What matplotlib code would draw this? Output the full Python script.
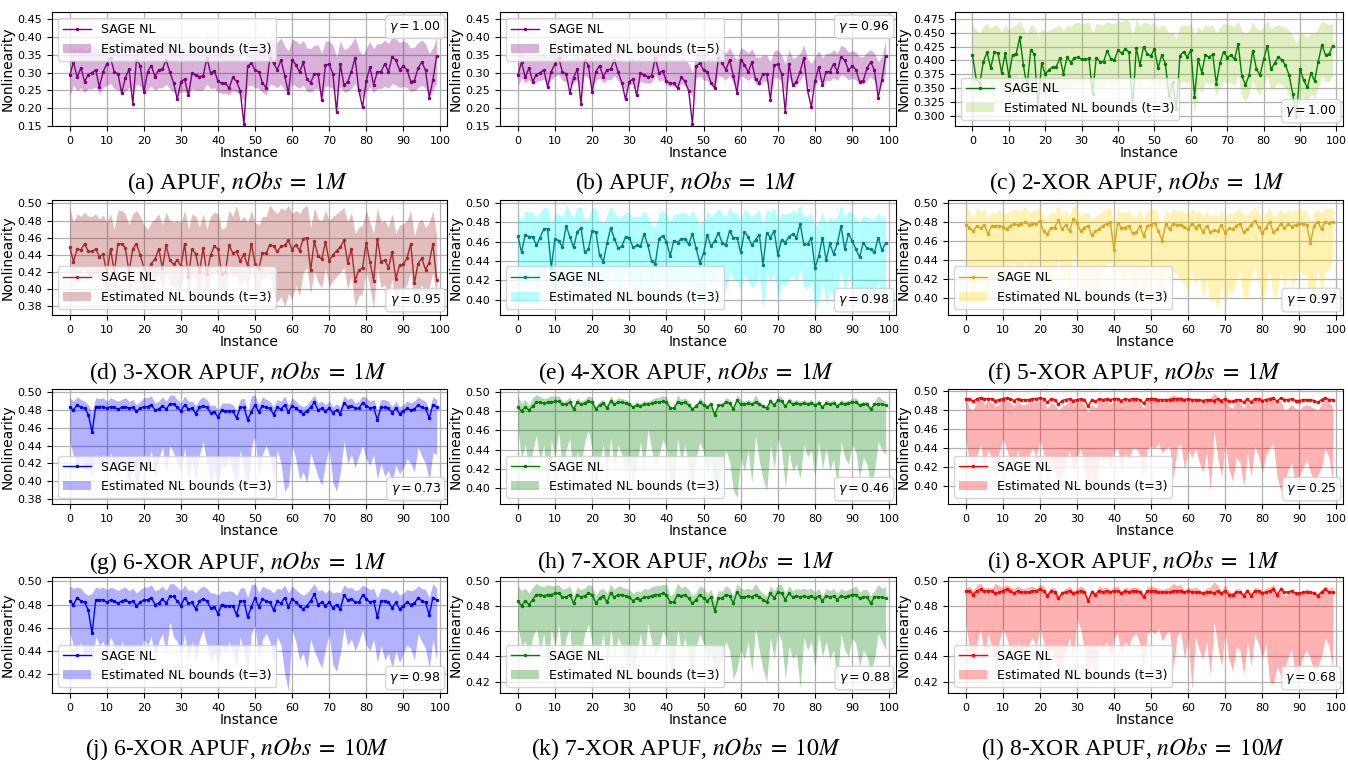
import matplotlib
matplotlib.use("Agg")
import matplotlib.pyplot as plt
from matplotlib.ticker import MultipleLocator

instances = list(range(100))

# ---------------- SAGE NL values ----------------
nl_apuf = [0.293, 0.330, 0.287, 0.314, 0.275, 0.295, 0.300, 0.308, 0.260, 0.303,
           0.325, 0.342, 0.302, 0.297, 0.243, 0.286, 0.310, 0.213, 0.337, 0.320,
           0.245, 0.303, 0.320, 0.289, 0.308, 0.310, 0.336, 0.302, 0.272, 0.225,
           0.275, 0.282, 0.236, 0.299, 0.293, 0.289, 0.291, 0.342, 0.299, 0.306,
           0.276, 0.270, 0.270, 0.257, 0.287, 0.276, 0.249, 0.155, 0.318, 0.327,
           0.307, 0.303, 0.272, 0.257, 0.342, 0.327, 0.308, 0.336, 0.292, 0.243,
           0.337, 0.323, 0.302, 0.329, 0.281, 0.272, 0.297, 0.297, 0.224, 0.321,
           0.324, 0.297, 0.190, 0.325, 0.265, 0.275, 0.303, 0.342, 0.250, 0.203,
           0.276, 0.316, 0.266, 0.303, 0.303, 0.325, 0.303, 0.345, 0.335, 0.308,
           0.318, 0.309, 0.275, 0.278, 0.313, 0.330, 0.307, 0.230, 0.280, 0.347]

nl_x2 = [0.410, 0.367, 0.358, 0.398, 0.415, 0.386, 0.415, 0.413, 0.378, 0.413,
         0.371, 0.410, 0.412, 0.442, 0.391, 0.352, 0.419, 0.411, 0.318, 0.395,
         0.375, 0.383, 0.388, 0.388, 0.405, 0.376, 0.406, 0.396, 0.405, 0.406,
         0.402, 0.402, 0.404, 0.340, 0.405, 0.398, 0.397, 0.418, 0.403, 0.401,
         0.419, 0.413, 0.421, 0.415, 0.315, 0.423, 0.391, 0.425, 0.412, 0.408,
         0.421, 0.386, 0.410, 0.394, 0.335, 0.360, 0.312, 0.409, 0.416, 0.406,
         0.419, 0.334, 0.402, 0.378, 0.410, 0.406, 0.411, 0.358, 0.395, 0.416,
         0.405, 0.410, 0.402, 0.430, 0.372, 0.356, 0.373, 0.418, 0.385, 0.373,
         0.402, 0.427, 0.384, 0.395, 0.406, 0.401, 0.392, 0.373, 0.339, 0.298,
         0.385, 0.364, 0.351, 0.377, 0.363, 0.398, 0.428, 0.410, 0.412, 0.427]

nl_x3 = [0.449, 0.432, 0.447, 0.446, 0.453, 0.444, 0.444, 0.447, 0.438, 0.441,
         0.418, 0.447, 0.420, 0.453, 0.453, 0.448, 0.420, 0.447, 0.453, 0.440,
         0.425, 0.418, 0.430, 0.435, 0.447, 0.425, 0.451, 0.434, 0.429, 0.434,
         0.427, 0.453, 0.414, 0.447, 0.441, 0.420, 0.448, 0.418, 0.440, 0.450,
         0.447, 0.418, 0.420, 0.451, 0.442, 0.444, 0.433, 0.441, 0.427, 0.453,
         0.430, 0.424, 0.442, 0.442, 0.452, 0.450, 0.444, 0.450, 0.451, 0.457,
         0.446, 0.452, 0.445, 0.459, 0.460, 0.422, 0.456, 0.439, 0.435, 0.455,
         0.433, 0.440, 0.445, 0.449, 0.457, 0.431, 0.447, 0.410, 0.422, 0.425,
         0.454, 0.432, 0.410, 0.459, 0.432, 0.434, 0.425, 0.443, 0.412, 0.428,
         0.429, 0.436, 0.453, 0.407, 0.430, 0.436, 0.423, 0.431, 0.453, 0.411]

nl_x4 = [0.466, 0.449, 0.467, 0.465, 0.465, 0.456, 0.464, 0.473, 0.473, 0.433,
         0.463, 0.461, 0.454, 0.476, 0.465, 0.454, 0.470, 0.474, 0.449, 0.452,
         0.471, 0.470, 0.446, 0.439, 0.458, 0.474, 0.463, 0.453, 0.455, 0.465,
         0.464, 0.454, 0.456, 0.455, 0.468, 0.456, 0.440, 0.437, 0.463, 0.466,
         0.460, 0.445, 0.461, 0.459, 0.463, 0.463, 0.457, 0.468, 0.453, 0.438,
         0.448, 0.467, 0.455, 0.461, 0.469, 0.459, 0.456, 0.471, 0.464, 0.464,
         0.449, 0.470, 0.465, 0.456, 0.462, 0.467, 0.436, 0.469, 0.464, 0.471,
         0.446, 0.462, 0.459, 0.465, 0.468, 0.464, 0.478, 0.457, 0.457, 0.464,
         0.433, 0.445, 0.464, 0.441, 0.458, 0.447, 0.458, 0.476, 0.452, 0.468,
         0.461, 0.452, 0.444, 0.459, 0.453, 0.452, 0.449, 0.464, 0.451, 0.458]

nl_x5 = [0.477, 0.474, 0.470, 0.476, 0.473, 0.477, 0.467, 0.476, 0.476, 0.476,
         0.475, 0.472, 0.476, 0.478, 0.477, 0.478, 0.480, 0.477, 0.478, 0.478,
         0.481, 0.470, 0.467, 0.474, 0.474, 0.482, 0.472, 0.477, 0.470, 0.483,
         0.479, 0.470, 0.474, 0.476, 0.466, 0.470, 0.472, 0.476, 0.478, 0.480,
         0.451, 0.479, 0.474, 0.474, 0.476, 0.468, 0.469, 0.476, 0.465, 0.476,
         0.477, 0.479, 0.470, 0.460, 0.478, 0.472, 0.478, 0.477, 0.477, 0.475,
         0.472, 0.478, 0.474, 0.477, 0.469, 0.476, 0.469, 0.471, 0.470, 0.477,
         0.468, 0.473, 0.472, 0.476, 0.478, 0.469, 0.472, 0.477, 0.481, 0.475,
         0.468, 0.474, 0.480, 0.469, 0.472, 0.478, 0.473, 0.478, 0.475, 0.477,
         0.478, 0.478, 0.477, 0.458, 0.476, 0.480, 0.472, 0.480, 0.479, 0.480]

nl_x6 = [0.483, 0.480, 0.486, 0.483, 0.482, 0.475, 0.455, 0.484, 0.484, 0.484,
         0.482, 0.484, 0.483, 0.481, 0.483, 0.484, 0.482, 0.483, 0.479, 0.482,
         0.484, 0.484, 0.486, 0.480, 0.481, 0.485, 0.481, 0.487, 0.487, 0.483,
         0.479, 0.486, 0.481, 0.482, 0.476, 0.483, 0.485, 0.483, 0.477, 0.478,
         0.472, 0.480, 0.479, 0.479, 0.479, 0.471, 0.483, 0.483, 0.469, 0.478,
         0.486, 0.478, 0.485, 0.483, 0.482, 0.475, 0.483, 0.481, 0.486, 0.478,
         0.485, 0.482, 0.479, 0.476, 0.479, 0.483, 0.489, 0.480, 0.482, 0.479,
         0.482, 0.477, 0.480, 0.476, 0.488, 0.484, 0.485, 0.482, 0.482, 0.488,
         0.485, 0.482, 0.483, 0.469, 0.483, 0.483, 0.482, 0.477, 0.482, 0.476,
         0.479, 0.482, 0.480, 0.481, 0.486, 0.483, 0.482, 0.471, 0.486, 0.484]

nl_x7 = [0.484, 0.480, 0.484, 0.481, 0.485, 0.489, 0.489, 0.488, 0.489, 0.489,
         0.490, 0.490, 0.487, 0.487, 0.489, 0.482, 0.489, 0.487, 0.488, 0.490,
         0.489, 0.482, 0.486, 0.488, 0.483, 0.490, 0.487, 0.489, 0.489, 0.488,
         0.487, 0.484, 0.486, 0.485, 0.487, 0.487, 0.488, 0.489, 0.489, 0.490,
         0.489, 0.483, 0.483, 0.489, 0.488, 0.489, 0.486, 0.482, 0.485, 0.489,
         0.486, 0.484, 0.487, 0.476, 0.486, 0.486, 0.489, 0.488, 0.482, 0.491,
         0.487, 0.487, 0.488, 0.487, 0.489, 0.487, 0.485, 0.483, 0.490, 0.486,
         0.491, 0.490, 0.485, 0.490, 0.487, 0.488, 0.487, 0.488, 0.487, 0.488,
         0.486, 0.488, 0.484, 0.488, 0.487, 0.488, 0.485, 0.488, 0.487, 0.488,
         0.489, 0.489, 0.486, 0.487, 0.487, 0.482, 0.487, 0.487, 0.487, 0.486]

nl_x8 = [0.492, 0.492, 0.489, 0.492, 0.493, 0.492, 0.492, 0.492, 0.490, 0.491,
         0.492, 0.493, 0.492, 0.490, 0.492, 0.491, 0.491, 0.491, 0.492, 0.492,
         0.493, 0.492, 0.488, 0.492, 0.491, 0.486, 0.490, 0.491, 0.492, 0.490,
         0.491, 0.492, 0.491, 0.484, 0.491, 0.489, 0.492, 0.491, 0.492, 0.491,
         0.492, 0.492, 0.490, 0.492, 0.491, 0.492, 0.492, 0.491, 0.487, 0.492,
         0.492, 0.492, 0.491, 0.491, 0.491, 0.491, 0.492, 0.492, 0.492, 0.491,
         0.492, 0.491, 0.491, 0.491, 0.490, 0.491, 0.491, 0.490, 0.492, 0.490,
         0.492, 0.489, 0.489, 0.491, 0.491, 0.488, 0.492, 0.488, 0.492, 0.492,
         0.490, 0.491, 0.492, 0.493, 0.489, 0.493, 0.491, 0.491, 0.492, 0.490,
         0.490, 0.491, 0.491, 0.491, 0.490, 0.488, 0.491, 0.493, 0.491, 0.491]

# ---------------- Estimated NL bounds ----------------
hi_a = [0.360, 0.370, 0.365, 0.372, 0.360, 0.368, 0.375, 0.372, 0.365, 0.378,
        0.385, 0.390, 0.378, 0.372, 0.368, 0.375, 0.385, 0.370, 0.390, 0.385,
        0.372, 0.378, 0.385, 0.370, 0.378, 0.380, 0.392, 0.378, 0.365, 0.355,
        0.365, 0.372, 0.360, 0.378, 0.375, 0.372, 0.375, 0.400, 0.378, 0.382,
        0.370, 0.365, 0.365, 0.360, 0.372, 0.365, 0.350, 0.335, 0.385, 0.395,
        0.380, 0.378, 0.365, 0.360, 0.400, 0.392, 0.385, 0.398, 0.375, 0.362,
        0.395, 0.390, 0.380, 0.392, 0.370, 0.368, 0.378, 0.378, 0.355, 0.388,
        0.390, 0.378, 0.345, 0.390, 0.365, 0.370, 0.382, 0.400, 0.365, 0.350,
        0.370, 0.388, 0.368, 0.382, 0.382, 0.392, 0.382, 0.400, 0.395, 0.385,
        0.390, 0.385, 0.370, 0.372, 0.385, 0.392, 0.382, 0.355, 0.370, 0.400]
lo_a = [0.235, 0.265, 0.250, 0.258, 0.245, 0.255, 0.255, 0.260, 0.242, 0.258,
        0.265, 0.270, 0.255, 0.252, 0.245, 0.248, 0.258, 0.245, 0.268, 0.262,
        0.245, 0.255, 0.262, 0.250, 0.258, 0.258, 0.268, 0.255, 0.245, 0.240,
        0.245, 0.248, 0.240, 0.255, 0.252, 0.250, 0.252, 0.268, 0.255, 0.258,
        0.245, 0.242, 0.242, 0.238, 0.250, 0.245, 0.235, 0.220, 0.262, 0.265,
        0.258, 0.256, 0.245, 0.238, 0.268, 0.265, 0.258, 0.268, 0.250, 0.240,
        0.268, 0.262, 0.256, 0.265, 0.248, 0.245, 0.255, 0.255, 0.240, 0.262,
        0.262, 0.255, 0.245, 0.262, 0.245, 0.248, 0.256, 0.270, 0.240, 0.230,
        0.248, 0.260, 0.245, 0.256, 0.256, 0.262, 0.256, 0.270, 0.265, 0.258,
        0.262, 0.258, 0.248, 0.250, 0.258, 0.265, 0.256, 0.235, 0.250, 0.270]

hi_b = [0.355, 0.360, 0.345, 0.350, 0.345, 0.348, 0.352, 0.355, 0.345, 0.360,
        0.368, 0.372, 0.355, 0.350, 0.340, 0.348, 0.355, 0.340, 0.365, 0.360,
        0.345, 0.352, 0.360, 0.350, 0.355, 0.355, 0.368, 0.355, 0.340, 0.330,
        0.340, 0.345, 0.335, 0.350, 0.348, 0.345, 0.348, 0.385, 0.355, 0.358,
        0.342, 0.338, 0.338, 0.332, 0.345, 0.340, 0.325, 0.300, 0.362, 0.368,
        0.355, 0.352, 0.340, 0.335, 0.372, 0.365, 0.355, 0.372, 0.350, 0.335,
        0.372, 0.365, 0.355, 0.368, 0.345, 0.342, 0.350, 0.350, 0.330, 0.362,
        0.365, 0.350, 0.325, 0.365, 0.340, 0.345, 0.355, 0.378, 0.340, 0.325,
        0.345, 0.362, 0.342, 0.355, 0.355, 0.365, 0.355, 0.378, 0.372, 0.358,
        0.362, 0.358, 0.345, 0.345, 0.358, 0.365, 0.355, 0.330, 0.345, 0.390]
lo_b = [0.262, 0.285, 0.272, 0.280, 0.268, 0.275, 0.278, 0.282, 0.265, 0.280,
        0.290, 0.295, 0.278, 0.275, 0.262, 0.272, 0.280, 0.255, 0.292, 0.285,
        0.262, 0.278, 0.285, 0.272, 0.280, 0.280, 0.292, 0.278, 0.265, 0.250,
        0.265, 0.268, 0.255, 0.276, 0.272, 0.270, 0.272, 0.295, 0.276, 0.280,
        0.265, 0.262, 0.262, 0.255, 0.270, 0.262, 0.250, 0.232, 0.286, 0.290,
        0.280, 0.278, 0.265, 0.258, 0.292, 0.288, 0.280, 0.292, 0.272, 0.255,
        0.292, 0.286, 0.278, 0.288, 0.268, 0.265, 0.276, 0.276, 0.250, 0.285,
        0.286, 0.276, 0.245, 0.286, 0.265, 0.268, 0.278, 0.295, 0.262, 0.245,
        0.268, 0.282, 0.265, 0.278, 0.278, 0.286, 0.278, 0.295, 0.290, 0.280,
        0.285, 0.280, 0.268, 0.270, 0.280, 0.288, 0.278, 0.250, 0.268, 0.300]

hi_c = [0.465, 0.455, 0.450, 0.462, 0.468, 0.458, 0.465, 0.462, 0.452, 0.465,
        0.455, 0.462, 0.465, 0.472, 0.458, 0.448, 0.465, 0.462, 0.445, 0.458,
        0.452, 0.455, 0.458, 0.460, 0.465, 0.455, 0.465, 0.462, 0.468, 0.470,
        0.466, 0.468, 0.470, 0.450, 0.468, 0.465, 0.465, 0.470, 0.468, 0.466,
        0.472, 0.470, 0.475, 0.472, 0.445, 0.475, 0.462, 0.470, 0.468, 0.465,
        0.470, 0.458, 0.465, 0.462, 0.448, 0.452, 0.440, 0.462, 0.465, 0.462,
        0.468, 0.445, 0.462, 0.455, 0.465, 0.462, 0.465, 0.450, 0.460, 0.468,
        0.465, 0.465, 0.462, 0.472, 0.455, 0.448, 0.455, 0.470, 0.458, 0.455,
        0.462, 0.472, 0.458, 0.462, 0.465, 0.462, 0.460, 0.455, 0.445, 0.430,
        0.455, 0.448, 0.442, 0.452, 0.448, 0.460, 0.472, 0.468, 0.465, 0.468]
lo_c = [0.360, 0.335, 0.330, 0.352, 0.362, 0.345, 0.362, 0.360, 0.340, 0.360,
        0.338, 0.358, 0.360, 0.375, 0.350, 0.325, 0.362, 0.358, 0.315, 0.352,
        0.340, 0.345, 0.348, 0.348, 0.358, 0.340, 0.358, 0.352, 0.358, 0.358,
        0.356, 0.356, 0.358, 0.330, 0.358, 0.352, 0.352, 0.365, 0.356, 0.355,
        0.365, 0.362, 0.368, 0.362, 0.312, 0.368, 0.350, 0.368, 0.362, 0.360,
        0.365, 0.345, 0.360, 0.352, 0.325, 0.340, 0.315, 0.360, 0.362, 0.358,
        0.365, 0.302, 0.355, 0.340, 0.360, 0.358, 0.360, 0.335, 0.352, 0.362,
        0.358, 0.360, 0.355, 0.372, 0.335, 0.325, 0.338, 0.365, 0.345, 0.338,
        0.355, 0.372, 0.345, 0.352, 0.360, 0.356, 0.350, 0.338, 0.315, 0.300,
        0.345, 0.330, 0.322, 0.340, 0.332, 0.352, 0.372, 0.362, 0.362, 0.372]

hi_d = [0.495, 0.478, 0.488, 0.485, 0.490, 0.485, 0.485, 0.488, 0.482, 0.486,
        0.478, 0.488, 0.470, 0.492, 0.492, 0.488, 0.475, 0.488, 0.492, 0.485,
        0.475, 0.470, 0.478, 0.482, 0.488, 0.475, 0.490, 0.480, 0.478, 0.480,
        0.478, 0.492, 0.470, 0.488, 0.485, 0.472, 0.488, 0.470, 0.485, 0.490,
        0.488, 0.470, 0.472, 0.492, 0.485, 0.498, 0.480, 0.485, 0.478, 0.492,
        0.478, 0.475, 0.485, 0.485, 0.498, 0.492, 0.488, 0.495, 0.492, 0.498,
        0.488, 0.492, 0.488, 0.495, 0.498, 0.472, 0.495, 0.482, 0.480, 0.492,
        0.480, 0.485, 0.488, 0.492, 0.495, 0.478, 0.490, 0.465, 0.472, 0.475,
        0.492, 0.478, 0.465, 0.495, 0.478, 0.480, 0.472, 0.488, 0.465, 0.475,
        0.476, 0.480, 0.492, 0.462, 0.478, 0.482, 0.472, 0.478, 0.492, 0.462]
lo_d = [0.425, 0.405, 0.420, 0.418, 0.425, 0.415, 0.415, 0.420, 0.410, 0.412,
        0.376, 0.418, 0.395, 0.425, 0.425, 0.420, 0.392, 0.418, 0.425, 0.412,
        0.398, 0.392, 0.402, 0.408, 0.418, 0.398, 0.422, 0.405, 0.402, 0.405,
        0.400, 0.425, 0.388, 0.418, 0.412, 0.392, 0.420, 0.390, 0.412, 0.422,
        0.418, 0.390, 0.392, 0.422, 0.415, 0.416, 0.405, 0.412, 0.400, 0.425,
        0.402, 0.396, 0.414, 0.414, 0.418, 0.395, 0.385, 0.392, 0.380, 0.395,
        0.388, 0.405, 0.392, 0.420, 0.425, 0.395, 0.422, 0.408, 0.402, 0.425,
        0.402, 0.410, 0.415, 0.420, 0.425, 0.400, 0.415, 0.380, 0.392, 0.395,
        0.422, 0.402, 0.378, 0.425, 0.402, 0.405, 0.395, 0.412, 0.380, 0.398,
        0.400, 0.405, 0.420, 0.378, 0.400, 0.405, 0.395, 0.402, 0.420, 0.390]

hi_e = [0.490, 0.482, 0.492, 0.490, 0.490, 0.485, 0.490, 0.495, 0.495, 0.478,
        0.490, 0.488, 0.485, 0.498, 0.490, 0.485, 0.495, 0.496, 0.482, 0.485,
        0.495, 0.494, 0.482, 0.478, 0.488, 0.496, 0.490, 0.485, 0.486, 0.490,
        0.490, 0.485, 0.486, 0.486, 0.492, 0.486, 0.478, 0.475, 0.490, 0.492,
        0.488, 0.480, 0.488, 0.488, 0.490, 0.490, 0.486, 0.492, 0.485, 0.476,
        0.482, 0.492, 0.486, 0.490, 0.494, 0.488, 0.486, 0.495, 0.490, 0.490,
        0.482, 0.494, 0.490, 0.486, 0.490, 0.492, 0.475, 0.494, 0.490, 0.495,
        0.482, 0.490, 0.488, 0.490, 0.492, 0.490, 0.498, 0.486, 0.486, 0.490,
        0.474, 0.480, 0.490, 0.478, 0.486, 0.482, 0.486, 0.498, 0.484, 0.492,
        0.490, 0.484, 0.480, 0.488, 0.485, 0.484, 0.482, 0.490, 0.484, 0.488]
lo_e = [0.430, 0.405, 0.428, 0.425, 0.425, 0.410, 0.425, 0.432, 0.432, 0.395,
        0.422, 0.420, 0.408, 0.435, 0.422, 0.408, 0.430, 0.432, 0.400, 0.405,
        0.430, 0.430, 0.398, 0.392, 0.415, 0.432, 0.422, 0.405, 0.408, 0.425,
        0.422, 0.406, 0.410, 0.408, 0.428, 0.410, 0.392, 0.390, 0.420, 0.425,
        0.418, 0.400, 0.418, 0.415, 0.420, 0.422, 0.410, 0.428, 0.405, 0.392,
        0.400, 0.428, 0.410, 0.418, 0.428, 0.415, 0.410, 0.430, 0.422, 0.420,
        0.410, 0.428, 0.420, 0.412, 0.418, 0.425, 0.392, 0.426, 0.420, 0.430,
        0.400, 0.418, 0.414, 0.422, 0.425, 0.420, 0.432, 0.412, 0.412, 0.420,
        0.392, 0.398, 0.420, 0.395, 0.412, 0.400, 0.412, 0.432, 0.405, 0.425,
        0.418, 0.405, 0.398, 0.412, 0.405, 0.405, 0.400, 0.420, 0.402, 0.412]

hi_f = [0.498, 0.490, 0.484, 0.496, 0.490, 0.494, 0.484, 0.490, 0.490, 0.492,
        0.490, 0.488, 0.492, 0.494, 0.492, 0.492, 0.496, 0.490, 0.492, 0.492,
        0.496, 0.486, 0.484, 0.490, 0.490, 0.498, 0.488, 0.492, 0.485, 0.498,
        0.494, 0.486, 0.490, 0.490, 0.482, 0.486, 0.488, 0.492, 0.494, 0.495,
        0.478, 0.494, 0.490, 0.490, 0.492, 0.485, 0.486, 0.492, 0.482, 0.492,
        0.492, 0.494, 0.486, 0.478, 0.494, 0.488, 0.494, 0.492, 0.492, 0.490,
        0.488, 0.494, 0.490, 0.492, 0.485, 0.492, 0.486, 0.488, 0.486, 0.492,
        0.484, 0.490, 0.488, 0.492, 0.494, 0.486, 0.488, 0.492, 0.496, 0.490,
        0.484, 0.490, 0.494, 0.486, 0.488, 0.494, 0.488, 0.494, 0.490, 0.492,
        0.494, 0.492, 0.492, 0.478, 0.490, 0.494, 0.488, 0.494, 0.494, 0.496]
lo_f = [0.440, 0.408, 0.395, 0.425, 0.410, 0.432, 0.398, 0.418, 0.420, 0.425,
        0.422, 0.412, 0.430, 0.438, 0.430, 0.428, 0.440, 0.425, 0.430, 0.428,
        0.442, 0.410, 0.400, 0.418, 0.415, 0.445, 0.408, 0.428, 0.402, 0.448,
        0.435, 0.405, 0.418, 0.420, 0.395, 0.405, 0.412, 0.428, 0.435, 0.440,
        0.405, 0.435, 0.418, 0.418, 0.425, 0.402, 0.405, 0.420, 0.392, 0.418,
        0.422, 0.430, 0.405, 0.395, 0.432, 0.410, 0.428, 0.425, 0.420, 0.415,
        0.405, 0.430, 0.412, 0.425, 0.398, 0.420, 0.395, 0.402, 0.388, 0.418,
        0.392, 0.410, 0.405, 0.420, 0.428, 0.398, 0.405, 0.420, 0.435, 0.415,
        0.392, 0.412, 0.432, 0.398, 0.405, 0.428, 0.408, 0.428, 0.412, 0.420,
        0.430, 0.425, 0.422, 0.390, 0.405, 0.432, 0.402, 0.428, 0.430, 0.440]

hi_g = [0.494, 0.490, 0.495, 0.492, 0.490, 0.486, 0.478, 0.494, 0.493, 0.494,
        0.490, 0.494, 0.492, 0.490, 0.492, 0.494, 0.490, 0.492, 0.486, 0.490,
        0.494, 0.494, 0.496, 0.488, 0.490, 0.495, 0.490, 0.497, 0.497, 0.492,
        0.488, 0.496, 0.490, 0.490, 0.485, 0.492, 0.495, 0.492, 0.485, 0.486,
        0.480, 0.488, 0.488, 0.488, 0.486, 0.480, 0.492, 0.494, 0.478, 0.496,
        0.497, 0.486, 0.495, 0.492, 0.490, 0.484, 0.492, 0.490, 0.496, 0.486,
        0.494, 0.490, 0.486, 0.484, 0.486, 0.492, 0.497, 0.488, 0.490, 0.486,
        0.490, 0.484, 0.487, 0.484, 0.496, 0.492, 0.494, 0.488, 0.490, 0.496,
        0.494, 0.490, 0.492, 0.480, 0.492, 0.492, 0.490, 0.484, 0.490, 0.484,
        0.486, 0.490, 0.488, 0.490, 0.495, 0.492, 0.490, 0.480, 0.495, 0.492]
lo_g = [0.445, 0.428, 0.415, 0.425, 0.410, 0.418, 0.405, 0.430, 0.420, 0.425,
        0.410, 0.432, 0.420, 0.405, 0.425, 0.418, 0.398, 0.420, 0.395, 0.412,
        0.430, 0.418, 0.435, 0.402, 0.425, 0.438, 0.408, 0.440, 0.432, 0.420,
        0.410, 0.438, 0.402, 0.425, 0.398, 0.430, 0.445, 0.420, 0.400, 0.410,
        0.395, 0.420, 0.415, 0.425, 0.410, 0.392, 0.435, 0.415, 0.385, 0.440,
        0.450, 0.405, 0.430, 0.440, 0.428, 0.400, 0.435, 0.420, 0.388, 0.395,
        0.440, 0.425, 0.402, 0.410, 0.398, 0.432, 0.418, 0.405, 0.395, 0.420,
        0.438, 0.398, 0.388, 0.410, 0.445, 0.420, 0.430, 0.415, 0.428, 0.440,
        0.425, 0.418, 0.430, 0.402, 0.420, 0.405, 0.412, 0.398, 0.418, 0.408,
        0.415, 0.425, 0.420, 0.410, 0.438, 0.428, 0.420, 0.400, 0.432, 0.430]

hi_h = [0.495, 0.488, 0.492, 0.486, 0.494, 0.497, 0.495, 0.493, 0.494, 0.496,
        0.495, 0.496, 0.490, 0.491, 0.495, 0.484, 0.494, 0.490, 0.492, 0.496,
        0.494, 0.484, 0.490, 0.492, 0.486, 0.496, 0.490, 0.494, 0.493, 0.492,
        0.490, 0.486, 0.490, 0.488, 0.491, 0.490, 0.492, 0.494, 0.494, 0.496,
        0.495, 0.484, 0.485, 0.497, 0.492, 0.494, 0.490, 0.482, 0.488, 0.494,
        0.490, 0.486, 0.490, 0.478, 0.488, 0.488, 0.494, 0.492, 0.483, 0.497,
        0.492, 0.490, 0.492, 0.490, 0.497, 0.490, 0.486, 0.484, 0.494, 0.488,
        0.496, 0.495, 0.486, 0.494, 0.490, 0.492, 0.490, 0.492, 0.490, 0.492,
        0.488, 0.492, 0.484, 0.492, 0.490, 0.492, 0.486, 0.492, 0.490, 0.491,
        0.493, 0.494, 0.488, 0.490, 0.490, 0.483, 0.490, 0.496, 0.492, 0.490]
lo_h = [0.462, 0.430, 0.445, 0.420, 0.438, 0.455, 0.428, 0.445, 0.398, 0.450,
        0.432, 0.458, 0.420, 0.440, 0.452, 0.405, 0.438, 0.425, 0.448, 0.460,
        0.440, 0.402, 0.428, 0.445, 0.408, 0.452, 0.422, 0.445, 0.435, 0.418,
        0.430, 0.405, 0.425, 0.448, 0.418, 0.462, 0.440, 0.422, 0.435, 0.450,
        0.442, 0.408, 0.400, 0.452, 0.428, 0.445, 0.420, 0.398, 0.432, 0.448,
        0.438, 0.415, 0.430, 0.395, 0.410, 0.422, 0.440, 0.428, 0.398, 0.390,
        0.432, 0.418, 0.440, 0.405, 0.455, 0.428, 0.410, 0.398, 0.445, 0.420,
        0.452, 0.440, 0.400, 0.438, 0.418, 0.425, 0.410, 0.445, 0.432, 0.440,
        0.412, 0.448, 0.420, 0.442, 0.418, 0.430, 0.402, 0.448, 0.432, 0.425,
        0.445, 0.438, 0.410, 0.432, 0.425, 0.402, 0.418, 0.448, 0.440, 0.435]

hi_i = [0.492, 0.482, 0.480, 0.490, 0.493, 0.486, 0.490, 0.488, 0.484, 0.486,
        0.494, 0.490, 0.488, 0.484, 0.490, 0.486, 0.486, 0.488, 0.490, 0.488,
        0.492, 0.490, 0.482, 0.488, 0.486, 0.480, 0.484, 0.486, 0.490, 0.485,
        0.488, 0.490, 0.486, 0.478, 0.486, 0.482, 0.490, 0.488, 0.489, 0.486,
        0.490, 0.491, 0.485, 0.490, 0.488, 0.490, 0.490, 0.488, 0.482, 0.490,
        0.495, 0.492, 0.490, 0.488, 0.492, 0.494, 0.496, 0.494, 0.495, 0.488,
        0.494, 0.490, 0.492, 0.488, 0.486, 0.490, 0.492, 0.498, 0.494, 0.486,
        0.496, 0.484, 0.482, 0.490, 0.488, 0.482, 0.490, 0.484, 0.492, 0.490,
        0.486, 0.490, 0.492, 0.494, 0.484, 0.490, 0.480, 0.482, 0.486, 0.482,
        0.480, 0.484, 0.486, 0.484, 0.482, 0.480, 0.486, 0.492, 0.488, 0.484]
lo_i = [0.450, 0.425, 0.410, 0.432, 0.445, 0.420, 0.438, 0.430, 0.410, 0.435,
        0.450, 0.440, 0.425, 0.410, 0.438, 0.418, 0.425, 0.432, 0.440, 0.430,
        0.448, 0.436, 0.405, 0.428, 0.418, 0.398, 0.412, 0.425, 0.438, 0.415,
        0.430, 0.440, 0.420, 0.392, 0.418, 0.388, 0.432, 0.425, 0.432, 0.418,
        0.438, 0.440, 0.415, 0.435, 0.428, 0.440, 0.440, 0.432, 0.408, 0.440,
        0.442, 0.440, 0.445, 0.435, 0.440, 0.442, 0.408, 0.440, 0.445, 0.418,
        0.438, 0.430, 0.440, 0.425, 0.415, 0.435, 0.395, 0.458, 0.430, 0.410,
        0.445, 0.418, 0.405, 0.430, 0.425, 0.400, 0.435, 0.410, 0.442, 0.432,
        0.415, 0.432, 0.440, 0.445, 0.410, 0.395, 0.402, 0.418, 0.425, 0.398,
        0.410, 0.420, 0.428, 0.415, 0.405, 0.412, 0.420, 0.440, 0.430, 0.405]

hi_j = [0.496, 0.494, 0.495, 0.494, 0.490, 0.488, 0.490, 0.495, 0.494, 0.495,
        0.493, 0.495, 0.494, 0.492, 0.494, 0.495, 0.492, 0.494, 0.490, 0.493,
        0.495, 0.495, 0.497, 0.492, 0.493, 0.496, 0.492, 0.498, 0.498, 0.495,
        0.492, 0.497, 0.492, 0.493, 0.490, 0.494, 0.496, 0.494, 0.490, 0.490,
        0.488, 0.492, 0.491, 0.492, 0.491, 0.488, 0.494, 0.495, 0.486, 0.497,
        0.498, 0.490, 0.496, 0.494, 0.493, 0.490, 0.494, 0.493, 0.497, 0.490,
        0.496, 0.493, 0.490, 0.488, 0.490, 0.494, 0.498, 0.492, 0.493, 0.490,
        0.493, 0.490, 0.491, 0.490, 0.497, 0.494, 0.495, 0.492, 0.493, 0.497,
        0.495, 0.493, 0.494, 0.486, 0.494, 0.494, 0.493, 0.490, 0.493, 0.488,
        0.490, 0.493, 0.492, 0.493, 0.496, 0.494, 0.493, 0.486, 0.498, 0.494]
lo_j = [0.455, 0.445, 0.440, 0.448, 0.435, 0.440, 0.430, 0.452, 0.445, 0.448,
        0.438, 0.452, 0.445, 0.432, 0.448, 0.442, 0.430, 0.445, 0.428, 0.440,
        0.450, 0.445, 0.452, 0.432, 0.448, 0.455, 0.438, 0.465, 0.452, 0.448,
        0.438, 0.455, 0.432, 0.448, 0.430, 0.450, 0.458, 0.445, 0.430, 0.438,
        0.428, 0.445, 0.440, 0.448, 0.438, 0.425, 0.452, 0.440, 0.420, 0.455,
        0.462, 0.432, 0.450, 0.455, 0.448, 0.430, 0.452, 0.445, 0.420, 0.405,
        0.458, 0.448, 0.432, 0.438, 0.425, 0.450, 0.440, 0.432, 0.425, 0.442,
        0.455, 0.428, 0.422, 0.438, 0.460, 0.445, 0.450, 0.440, 0.448, 0.458,
        0.445, 0.440, 0.450, 0.430, 0.445, 0.432, 0.438, 0.425, 0.440, 0.430,
        0.438, 0.445, 0.442, 0.432, 0.455, 0.448, 0.442, 0.425, 0.450, 0.432]

hi_k = [0.496, 0.492, 0.494, 0.490, 0.495, 0.498, 0.496, 0.495, 0.497, 0.496,
        0.496, 0.497, 0.493, 0.494, 0.496, 0.488, 0.495, 0.493, 0.494, 0.497,
        0.496, 0.488, 0.493, 0.494, 0.490, 0.497, 0.493, 0.496, 0.495, 0.494,
        0.493, 0.490, 0.492, 0.491, 0.494, 0.493, 0.495, 0.496, 0.496, 0.497,
        0.497, 0.488, 0.490, 0.498, 0.494, 0.496, 0.493, 0.488, 0.491, 0.496,
        0.494, 0.490, 0.493, 0.484, 0.492, 0.492, 0.496, 0.494, 0.488, 0.498,
        0.494, 0.493, 0.494, 0.493, 0.498, 0.493, 0.490, 0.488, 0.496, 0.492,
        0.497, 0.497, 0.490, 0.496, 0.492, 0.494, 0.493, 0.494, 0.493, 0.494,
        0.491, 0.494, 0.488, 0.494, 0.492, 0.494, 0.490, 0.494, 0.492, 0.493,
        0.494, 0.496, 0.491, 0.493, 0.493, 0.488, 0.492, 0.497, 0.494, 0.495]
lo_k = [0.465, 0.448, 0.452, 0.438, 0.455, 0.462, 0.445, 0.458, 0.428, 0.462,
        0.448, 0.465, 0.438, 0.455, 0.462, 0.425, 0.450, 0.442, 0.458, 0.465,
        0.452, 0.428, 0.445, 0.458, 0.430, 0.462, 0.440, 0.455, 0.448, 0.435,
        0.445, 0.425, 0.442, 0.458, 0.438, 0.466, 0.452, 0.440, 0.448, 0.460,
        0.455, 0.430, 0.425, 0.462, 0.445, 0.455, 0.440, 0.422, 0.448, 0.458,
        0.450, 0.435, 0.445, 0.418, 0.432, 0.440, 0.452, 0.445, 0.422, 0.430,
        0.445, 0.438, 0.452, 0.428, 0.462, 0.445, 0.430, 0.420, 0.455, 0.438,
        0.460, 0.452, 0.422, 0.448, 0.438, 0.442, 0.415, 0.455, 0.445, 0.452,
        0.432, 0.458, 0.440, 0.452, 0.438, 0.445, 0.418, 0.458, 0.445, 0.440,
        0.455, 0.450, 0.432, 0.445, 0.440, 0.428, 0.438, 0.458, 0.452, 0.445]

hi_l = [0.494, 0.496, 0.492, 0.497, 0.498, 0.494, 0.495, 0.494, 0.498, 0.496,
        0.495, 0.497, 0.495, 0.494, 0.496, 0.494, 0.494, 0.495, 0.496, 0.494,
        0.497, 0.496, 0.490, 0.495, 0.494, 0.488, 0.492, 0.494, 0.496, 0.492,
        0.494, 0.496, 0.494, 0.486, 0.494, 0.490, 0.496, 0.494, 0.495, 0.493,
        0.495, 0.496, 0.492, 0.495, 0.494, 0.495, 0.495, 0.494, 0.490, 0.495,
        0.496, 0.495, 0.494, 0.493, 0.494, 0.495, 0.498, 0.496, 0.497, 0.492,
        0.495, 0.494, 0.495, 0.493, 0.492, 0.494, 0.495, 0.499, 0.496, 0.492,
        0.497, 0.492, 0.490, 0.494, 0.493, 0.490, 0.494, 0.490, 0.495, 0.494,
        0.492, 0.494, 0.495, 0.497, 0.490, 0.496, 0.488, 0.490, 0.493, 0.490,
        0.490, 0.492, 0.494, 0.492, 0.492, 0.490, 0.493, 0.496, 0.493, 0.496]
lo_l = [0.468, 0.445, 0.435, 0.450, 0.462, 0.440, 0.458, 0.448, 0.430, 0.452,
        0.462, 0.455, 0.445, 0.432, 0.452, 0.438, 0.442, 0.450, 0.455, 0.448,
        0.462, 0.452, 0.430, 0.448, 0.440, 0.425, 0.436, 0.445, 0.455, 0.438,
        0.470, 0.462, 0.445, 0.420, 0.440, 0.418, 0.450, 0.445, 0.452, 0.438,
        0.455, 0.458, 0.440, 0.452, 0.448, 0.456, 0.458, 0.450, 0.432, 0.458,
        0.460, 0.458, 0.462, 0.452, 0.458, 0.460, 0.430, 0.456, 0.460, 0.438,
        0.455, 0.415, 0.456, 0.445, 0.438, 0.452, 0.425, 0.468, 0.448, 0.432,
        0.460, 0.438, 0.428, 0.448, 0.445, 0.425, 0.452, 0.432, 0.458, 0.450,
        0.438, 0.450, 0.420, 0.418, 0.432, 0.425, 0.430, 0.440, 0.445, 0.422,
        0.430, 0.440, 0.445, 0.438, 0.428, 0.432, 0.440, 0.455, 0.448, 0.430]

captions = ["(a) APUF, $nObs\\;=\\;1M$", "(b) APUF, $nObs\\;=\\;1M$",
            "(c) 2-XOR APUF, $nObs\\;=\\;1M$", "(d) 3-XOR APUF, $nObs\\;=\\;1M$",
            "(e) 4-XOR APUF, $nObs\\;=\\;1M$", "(f) 5-XOR APUF, $nObs\\;=\\;1M$",
            "(g) 6-XOR APUF, $nObs\\;=\\;1M$", "(h) 7-XOR APUF, $nObs\\;=\\;1M$",
            "(i) 8-XOR APUF, $nObs\\;=\\;1M$", "(j) 6-XOR APUF, $nObs\\;=\\;10M$",
            "(k) 7-XOR APUF, $nObs\\;=\\;10M$", "(l) 8-XOR APUF, $nObs\\;=\\;10M$"]
gammas = [1.00, 0.96, 1.00, 0.95, 0.98, 0.97, 0.73, 0.46, 0.25, 0.98, 0.88, 0.68]
t_values = [3, 5, 3, 3, 3, 3, 3, 3, 3, 3, 3, 3]

panels = [
    (nl_apuf, lo_a, hi_a), (nl_apuf, lo_b, hi_b), (nl_x2, lo_c, hi_c),
    (nl_x3, lo_d, hi_d), (nl_x4, lo_e, hi_e), (nl_x5, lo_f, hi_f),
    (nl_x6, lo_g, hi_g), (nl_x7, lo_h, hi_h), (nl_x8, lo_i, hi_i),
    (nl_x6, lo_j, hi_j), (nl_x7, lo_k, hi_k), (nl_x8, lo_l, hi_l),
]

# style per panel
line_colors = ['purple', 'purple', 'green', 'brown', 'teal', 'goldenrod',
               'blue', 'green', 'red', 'blue', 'green', 'red']
fill_colors = ['purple', 'purple', 'yellowgreen', 'brown', 'cyan', 'gold',
               'blue', 'green', 'red', 'blue', 'green', 'red']
ylims = [(0.15, 0.471), (0.15, 0.471), (0.281, 0.488),
         (0.370, 0.504), (0.3845, 0.5027), (0.3825, 0.5028),
         (0.374, 0.5038), (0.3837, 0.5028), (0.3813, 0.5021),
         (0.4035, 0.5038), (0.411, 0.5029), (0.411, 0.5029)]
ysteps = [0.05, 0.05, 0.025, 0.02, 0.02, 0.02, 0.02, 0.02, 0.02, 0.02, 0.02, 0.02]
legend_locs = ['upper left', 'upper left'] + ['lower left'] * 10
gamma_top = [True, True] + [False] * 10

W, H = 1348.0, 762.0
col_x = [(52, 447), (500, 896), (948, 1343)]
row_y = [(12, 126), (200, 315), (389, 504), (577, 693)]
cap_y = [183, 373, 562, 749]

fig = plt.figure(figsize=(W / 100, H / 100), dpi=100)

for k, (nl, lo, hi) in enumerate(panels):
    r, c = divmod(k, 3)
    x0, x1 = col_x[c]
    if k == 2:
        x0 = 955
    y0, y1 = row_y[r]
    ax = fig.add_axes([x0 / W, 1 - y1 / H, (x1 - x0) / W, (y1 - y0) / H])
    ax.plot(instances, nl, color=line_colors[k], marker='.', markersize=3,
            linewidth=1.0, label='SAGE NL', zorder=3)
    ax.fill_between(instances, lo, hi, color=fill_colors[k], alpha=0.3,
                    linewidth=0, label=f'Estimated NL bounds (t={t_values[k]})')
    ax.set_xlim(-4.8, 101.8)
    ax.set_ylim(*ylims[k])
    ax.set_xticks(range(0, 101, 10))
    ax.yaxis.set_major_locator(MultipleLocator(ysteps[k]))
    ax.tick_params(labelsize=8)
    ax.grid(True, color='#b0b0b0', linewidth=0.9)
    ax.set_axisbelow(True)
    ax.set_xlabel('Instance', fontsize=10, labelpad=0)
    ax.set_ylabel('Nonlinearity', fontsize=10, labelpad=2)
    ax.legend(loc=legend_locs[k], fontsize=9, handlelength=2.2)
    if gamma_top[k]:
        ax.text(0.985, 0.94, f'$\\gamma = {gammas[k]:.2f}$', transform=ax.transAxes,
                ha='right', va='top', fontsize=9,
                bbox=dict(boxstyle='round', fc='white', ec='0.8', alpha=0.8))
    else:
        ax.text(0.985, 0.06, f'$\\gamma = {gammas[k]:.2f}$', transform=ax.transAxes,
                ha='right', va='bottom', fontsize=9,
                bbox=dict(boxstyle='round', fc='white', ec='0.8', alpha=0.8))
    fig.text((x0 + x1) / 2 / W - 12 / W, 1 - cap_y[r] / H, captions[k],
             ha='center', va='center', fontsize=17, family='Liberation Serif',
             math_fontfamily='stix')

fig.savefig('out.png', dpi=100)
